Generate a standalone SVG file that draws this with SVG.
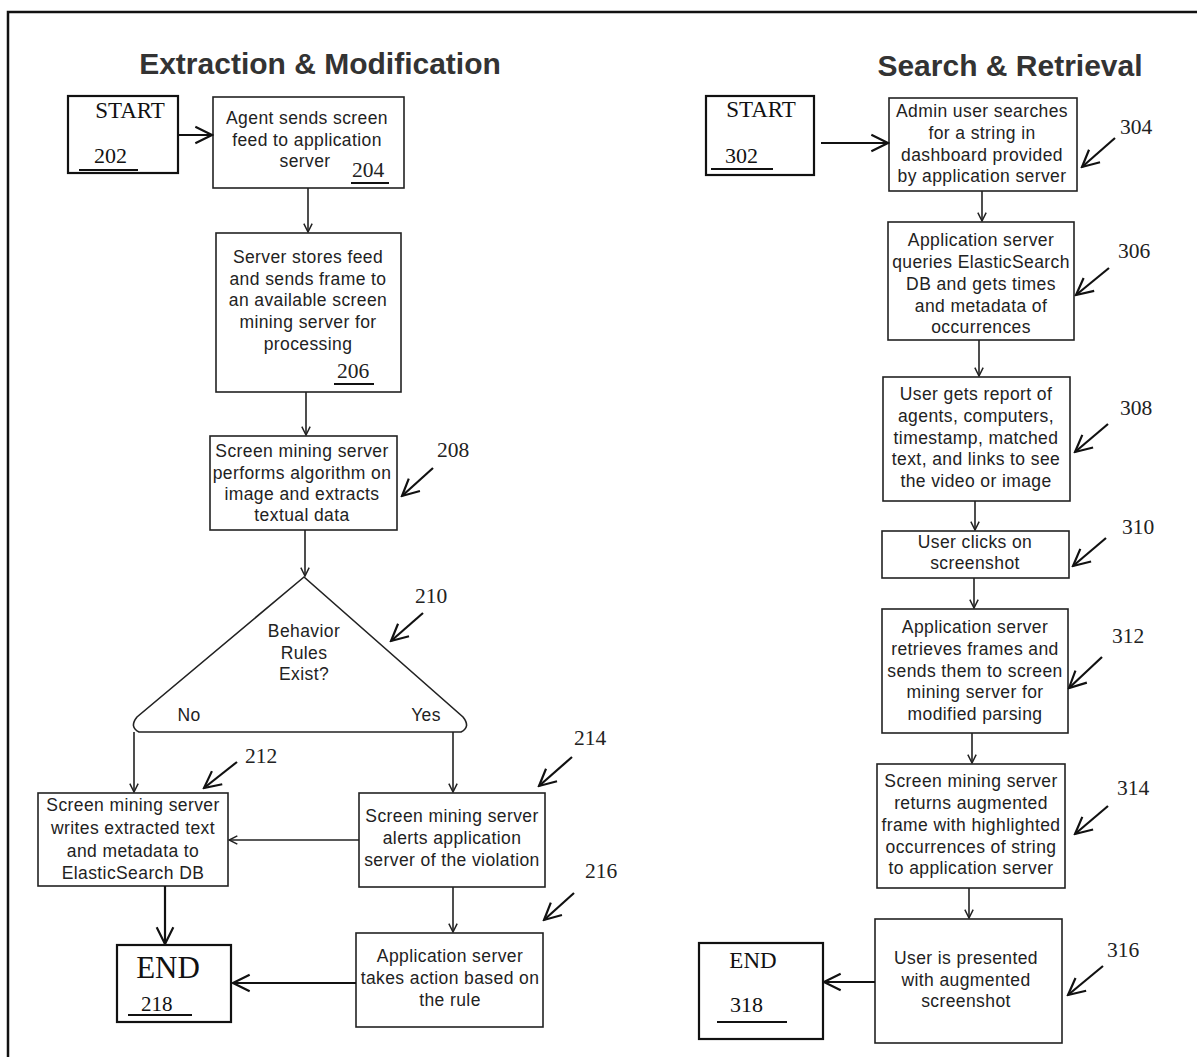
<svg xmlns="http://www.w3.org/2000/svg" width="1197" height="1057" viewBox="0 0 1197 1057">
<style>
.box{fill:#fff;stroke:#222;stroke-width:1.6}
.term{fill:#fff;stroke:#111;stroke-width:2.2}
.t{font-family:"Liberation Sans",Arial,sans-serif;font-size:17.5px;fill:#222;text-anchor:middle;letter-spacing:0.4px}
.n{font-family:"Liberation Serif","Times New Roman",serif;font-size:21.5px;fill:#222}
.big{font-family:"Liberation Serif","Times New Roman",serif;fill:#111}
.title{font-family:"Liberation Sans",Arial,sans-serif;font-size:30px;font-weight:bold;fill:#333;text-anchor:middle}
.c{stroke:#222;stroke-width:1.6;fill:none}
.cb{stroke:#111;stroke-width:2.2;fill:none}
.ul{stroke:#111;stroke-width:2}
</style>
<defs>
<marker id="ah" viewBox="0 0 12 12" refX="11" refY="6" markerWidth="10" markerHeight="10" orient="auto" markerUnits="userSpaceOnUse"><path d="M1,1 L11,6 L1,11" fill="none" stroke="#222" stroke-width="1.8"/></marker>
<marker id="ahb" viewBox="0 0 12 12" refX="11" refY="6" markerWidth="20" markerHeight="20" orient="auto" markerUnits="userSpaceOnUse"><path d="M1,1 L11,6 L1,11" fill="none" stroke="#111" stroke-width="1.3"/></marker>
</defs>
<rect width="1197" height="1057" fill="#fff"/>
<path d="M8,1057 V12 H1197" fill="none" stroke="#111" stroke-width="2.5"/>

<text class="title" x="320" y="74">Extraction &amp; Modification</text>
<text class="title" x="1010" y="76">Search &amp; Retrieval</text>

<g id="n202">
<rect class="term" x="68" y="96" width="110" height="77"/>
<text class="big" x="130" y="118" font-size="23" text-anchor="middle">START</text>
<text class="big" x="94" y="163" font-size="22">202</text>
<line class="ul" x1="79" y1="170" x2="138" y2="170"/>
</g>
<g id="n204">
<rect class="box" x="213" y="97" width="191" height="91"/>
<text class="t" x="307" y="124">Agent sends screen</text>
<text class="t" x="307" y="146">feed to application</text>
<text class="t" x="305" y="167">server</text>
<text class="n" x="352" y="177">204</text>
<line class="ul" x1="351" y1="183" x2="389" y2="183"/>
</g>
<g id="n206">
<rect class="box" x="216" y="233" width="185" height="159"/>
<text class="t" x="308" y="263">Server stores feed</text>
<text class="t" x="308" y="285">and sends frame to</text>
<text class="t" x="308" y="306">an available screen</text>
<text class="t" x="308" y="328">mining server for</text>
<text class="t" x="308" y="350">processing</text>
<text class="n" x="337" y="378">206</text>
<line class="ul" x1="334" y1="384" x2="374" y2="384"/>
</g>
<g id="n208">
<rect class="box" x="210" y="436" width="187" height="94"/>
<text class="t" x="302" y="457">Screen mining server</text>
<text class="t" x="302" y="479">performs algorithm on</text>
<text class="t" x="302" y="500">image and extracts</text>
<text class="t" x="302" y="521">textual data</text>
<text class="n" x="437" y="457">208</text>
</g>
<g id="n210">
<path class="box" d="M304,577 L137,717 Q129,727 139,732 L461,732 Q471,727 463,717 Z"/>
<text class="t" x="304" y="637">Behavior</text>
<text class="t" x="304" y="659">Rules</text>
<text class="t" x="304" y="680">Exist?</text>
<text class="t" x="189" y="721">No</text>
<text class="t" x="426" y="721">Yes</text>
<text class="n" x="415" y="603">210</text>
</g>
<g id="n212">
<rect class="box" x="38" y="793" width="190" height="93"/>
<text class="t" x="133" y="811">Screen mining server</text>
<text class="t" x="133" y="834">writes extracted text</text>
<text class="t" x="133" y="857">and metadata to</text>
<text class="t" x="133" y="879">ElasticSearch DB</text>
<text class="n" x="245" y="763">212</text>
</g>
<g id="n214">
<rect class="box" x="359" y="793" width="186" height="94"/>
<text class="t" x="452" y="822">Screen mining server</text>
<text class="t" x="452" y="844">alerts application</text>
<text class="t" x="452" y="866">server of the violation</text>
<text class="n" x="574" y="745">214</text>
</g>
<g id="n216">
<rect class="box" x="356" y="933" width="187" height="94"/>
<text class="t" x="450" y="962">Application server</text>
<text class="t" x="450" y="984">takes action based on</text>
<text class="t" x="450" y="1006">the rule</text>
<text class="n" x="585" y="878">216</text>
</g>
<g id="n218">
<rect class="term" x="117" y="945" width="114" height="77"/>
<text class="big" x="168" y="978" font-size="31" text-anchor="middle">END</text>
<text class="big" x="141" y="1011" font-size="21">218</text>
<line class="ul" x1="128" y1="1015" x2="192" y2="1015"/>
</g>

<g id="n302">
<rect class="term" x="706" y="96" width="108" height="79"/>
<text class="big" x="761" y="117" font-size="23" text-anchor="middle">START</text>
<text class="big" x="725" y="163" font-size="22">302</text>
<line class="ul" x1="711" y1="169" x2="773" y2="169"/>
</g>
<g id="n304">
<rect class="box" x="889" y="98" width="188" height="93"/>
<text class="t" x="982" y="117">Admin user searches</text>
<text class="t" x="982" y="139">for a string in</text>
<text class="t" x="982" y="161">dashboard provided</text>
<text class="t" x="982" y="182">by application server</text>
<text class="n" x="1120" y="134">304</text>
</g>
<g id="n306">
<rect class="box" x="888" y="222" width="186" height="118"/>
<text class="t" x="981" y="246">Application server</text>
<text class="t" x="981" y="268">queries ElasticSearch</text>
<text class="t" x="981" y="290">DB and gets times</text>
<text class="t" x="981" y="312">and metadata of</text>
<text class="t" x="981" y="333">occurrences</text>
<text class="n" x="1118" y="258">306</text>
</g>
<g id="n308">
<rect class="box" x="883" y="377" width="187" height="124"/>
<text class="t" x="976" y="400">User gets report of</text>
<text class="t" x="976" y="422">agents, computers,</text>
<text class="t" x="976" y="444">timestamp, matched</text>
<text class="t" x="976" y="465">text, and links to see</text>
<text class="t" x="976" y="487">the video or image</text>
<text class="n" x="1120" y="415">308</text>
</g>
<g id="n310">
<rect class="box" x="882" y="531" width="187" height="47"/>
<text class="t" x="975" y="548">User clicks on</text>
<text class="t" x="975" y="569">screenshot</text>
<text class="n" x="1122" y="534">310</text>
</g>
<g id="n312">
<rect class="box" x="882" y="609" width="186" height="124"/>
<text class="t" x="975" y="633">Application server</text>
<text class="t" x="975" y="655">retrieves frames and</text>
<text class="t" x="975" y="677">sends them to screen</text>
<text class="t" x="975" y="698">mining server for</text>
<text class="t" x="975" y="720">modified parsing</text>
<text class="n" x="1112" y="643">312</text>
</g>
<g id="n314">
<rect class="box" x="877" y="764" width="188" height="124"/>
<text class="t" x="971" y="787">Screen mining server</text>
<text class="t" x="971" y="809">returns augmented</text>
<text class="t" x="971" y="831">frame with highlighted</text>
<text class="t" x="971" y="853">occurrences of string</text>
<text class="t" x="971" y="874">to application server</text>
<text class="n" x="1117" y="795">314</text>
</g>
<g id="n316">
<rect class="box" x="875" y="919" width="187" height="124"/>
<text class="t" x="966" y="964">User is presented</text>
<text class="t" x="966" y="986">with augmented</text>
<text class="t" x="966" y="1007">screenshot</text>
<text class="n" x="1107" y="957">316</text>
</g>
<g id="n318">
<rect class="term" x="699" y="943" width="124" height="96"/>
<text class="big" x="753" y="968" font-size="23" text-anchor="middle">END</text>
<text class="big" x="730" y="1012" font-size="22">318</text>
<line class="ul" x1="717" y1="1022" x2="787" y2="1022"/>
</g>

<g id="connectors">
<line class="cb" x1="178" y1="135" x2="212" y2="135" marker-end="url(#ahb)"/>
<line class="c" x1="308" y1="188" x2="308" y2="232" marker-end="url(#ah)"/>
<line class="c" x1="306" y1="392" x2="306" y2="435" marker-end="url(#ah)"/>
<line class="c" x1="305" y1="530" x2="305" y2="576" marker-end="url(#ah)"/>
<line class="c" x1="134" y1="732" x2="134" y2="792" marker-end="url(#ah)"/>
<line class="c" x1="453" y1="732" x2="453" y2="792" marker-end="url(#ah)"/>
<line class="c" x1="359" y1="840" x2="229" y2="840" marker-end="url(#ah)"/>
<line class="cb" x1="165" y1="886" x2="165" y2="944" marker-end="url(#ahb)"/>
<line class="c" x1="453" y1="887" x2="453" y2="932" marker-end="url(#ah)"/>
<line class="cb" x1="356" y1="983" x2="233" y2="983" marker-end="url(#ahb)"/>
<line class="cb" x1="821" y1="143" x2="888" y2="143" marker-end="url(#ahb)"/>
<line class="c" x1="982" y1="191" x2="982" y2="221" marker-end="url(#ah)"/>
<line class="c" x1="979" y1="340" x2="979" y2="376" marker-end="url(#ah)"/>
<line class="c" x1="975" y1="501" x2="975" y2="530" marker-end="url(#ah)"/>
<line class="c" x1="974" y1="578" x2="974" y2="608" marker-end="url(#ah)"/>
<line class="c" x1="972" y1="733" x2="972" y2="763" marker-end="url(#ah)"/>
<line class="c" x1="969" y1="888" x2="969" y2="918" marker-end="url(#ah)"/>
<line class="cb" x1="875" y1="982" x2="824" y2="982" marker-end="url(#ahb)"/>
<line class="cb" x1="433" y1="468" x2="402" y2="496" marker-end="url(#ahb)"/>
<line class="cb" x1="423" y1="613" x2="391" y2="641" marker-end="url(#ahb)"/>
<line class="cb" x1="237" y1="762" x2="204" y2="788" marker-end="url(#ahb)"/>
<line class="cb" x1="572" y1="757" x2="539" y2="786" marker-end="url(#ahb)"/>
<line class="cb" x1="574" y1="893" x2="544" y2="920" marker-end="url(#ahb)"/>
<line class="cb" x1="1115" y1="138" x2="1082" y2="167" marker-end="url(#ahb)"/>
<line class="cb" x1="1109" y1="268" x2="1076" y2="295" marker-end="url(#ahb)"/>
<line class="cb" x1="1108" y1="424" x2="1075" y2="452" marker-end="url(#ahb)"/>
<line class="cb" x1="1106" y1="538" x2="1073" y2="566" marker-end="url(#ahb)"/>
<line class="cb" x1="1102" y1="657" x2="1069" y2="688" marker-end="url(#ahb)"/>
<line class="cb" x1="1108" y1="806" x2="1075" y2="834" marker-end="url(#ahb)"/>
<line class="cb" x1="1103" y1="966" x2="1068" y2="995" marker-end="url(#ahb)"/>
</g>
</svg>
